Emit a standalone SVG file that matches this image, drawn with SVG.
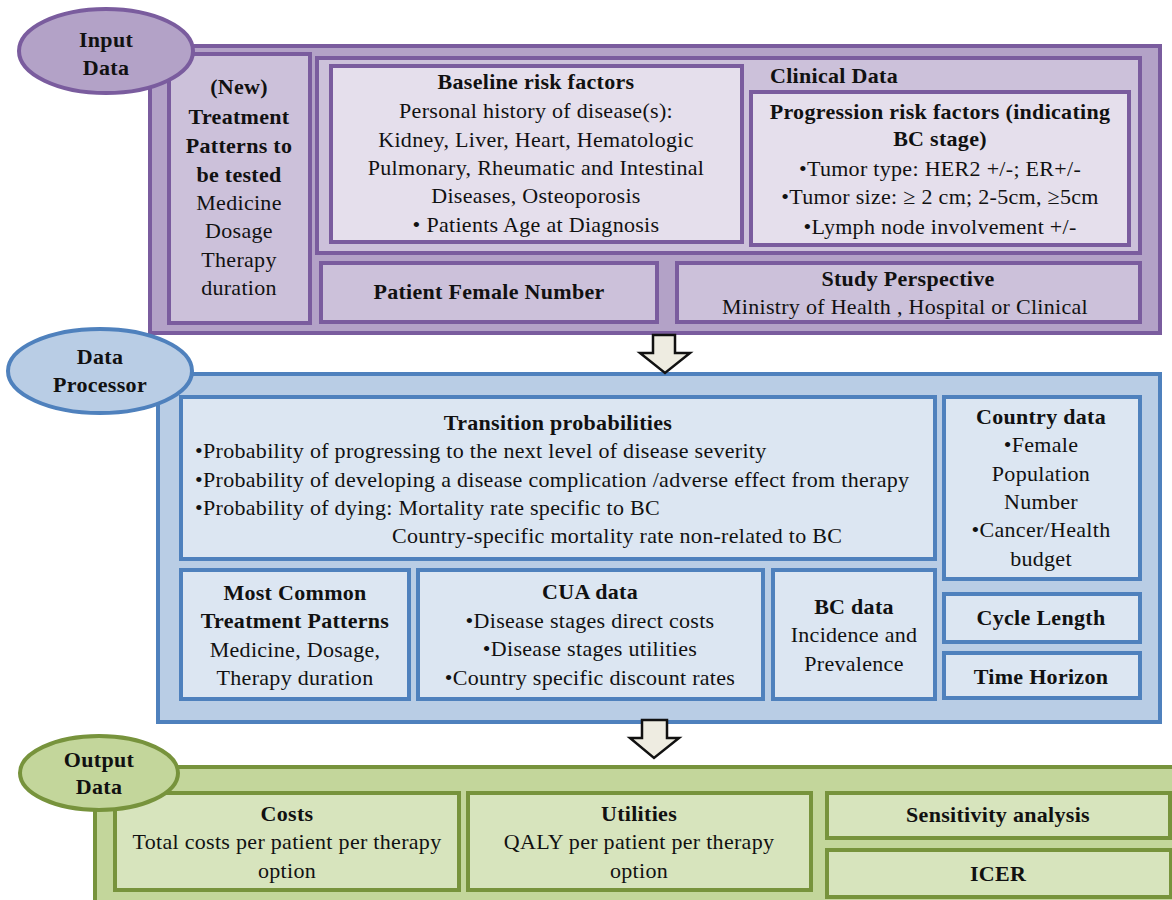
<svg xmlns="http://www.w3.org/2000/svg" width="1172" height="900" viewBox="0 0 1172 900" font-family="'Liberation Serif', 'DejaVu Serif', serif">
<style>
text{font-family:'Liberation Serif','DejaVu Serif',serif;font-size:22px;letter-spacing:0.3px;fill:#111;}
.c{text-anchor:middle;}
.b{font-weight:bold;}
.pOut{fill:#b3a2c7;stroke:#7a5c9e;stroke-width:4;}
.pMid{fill:#ccc1da;stroke:#7a5c9e;stroke-width:4;}
.pIn{fill:#e5dfec;stroke:#7a5c9e;stroke-width:4;}
.bOut{fill:#b9cde5;stroke:#4f81bd;stroke-width:4;}
.bIn{fill:#dce6f2;stroke:#4f81bd;stroke-width:4;}
.gOut{fill:#c3d69b;stroke:#77933c;stroke-width:4;}
.gIn{fill:#d7e4bd;stroke:#77933c;stroke-width:4;}
.arr{fill:#eeece1;stroke:#111;stroke-width:2.5;stroke-linejoin:miter;}
</style>
<rect width="1172" height="900" fill="#ffffff"/>

<g id="input-section">
<rect class="pOut" x="150" y="46" width="1010" height="287"/>
</g>
<g id="new-treatment">
<rect class="pMid" x="169" y="54" width="141" height="269"/>
<text class="c b" x="239" y="94">(New)</text>
<text class="c b" x="239" y="124">Treatment</text>
<text class="c b" x="239" y="153">Patterns to</text>
<text class="c b" x="239" y="182">be tested</text>
<text class="c" x="239" y="210">Medicine</text>
<text class="c" x="239" y="238">Dosage</text>
<text class="c" x="239" y="267">Therapy</text>
<text class="c" x="239" y="295">duration</text>
</g>
<g id="clinical-data">
<rect class="pMid" x="317" y="58" width="823" height="195"/>
<text class="b" x="770" y="83">Clinical Data</text>
</g>
<g id="baseline">
<rect class="pIn" x="331" y="66" width="411" height="176"/>
<text class="c b" x="536" y="89">Baseline risk factors</text>
<text class="c" x="536" y="118">Personal history of disease(s):</text>
<text class="c" x="536" y="147">Kidney, Liver, Heart, Hematologic</text>
<text class="c" x="536" y="175">Pulmonary, Rheumatic and Intestinal</text>
<text class="c" x="536" y="203">Diseases, Osteoporosis</text>
<text class="c" x="536" y="232">• Patients Age at Diagnosis</text>
</g>
<g id="progression">
<rect class="pIn" x="751" y="92" width="378" height="153"/>
<text class="c b" x="940" y="119">Progression risk factors (indicating</text>
<text class="c b" x="940" y="146">BC stage)</text>
<text class="c" x="940" y="176">•Tumor type: HER2 +/-; ER+/-</text>
<text class="c" x="940" y="204">•Tumor size: ≥ 2 cm; 2-5cm, ≥5cm</text>
<text class="c" x="940" y="234">•Lymph node involvement +/-</text>
</g>
<g id="patient-female">
<rect class="pMid" x="321" y="263" width="336" height="59"/>
<text class="c b" x="489" y="299">Patient Female Number</text>
</g>
<g id="study-perspective">
<rect class="pMid" x="677" y="263" width="463" height="59"/>
<text class="c b" x="908" y="286">Study Perspective</text>
<text class="c" x="905" y="314">Ministry of Health , Hospital or Clinical</text>
</g>
<g id="input-label">
<ellipse class="pOut" cx="106" cy="51" rx="87" ry="42"/>
<text class="c b" x="106" y="47">Input</text>
<text class="c b" x="106" y="75">Data</text>
</g>

<g id="processor-section">
<rect class="bOut" x="158" y="374" width="1002" height="348"/>
</g>
<g id="transition">
<rect class="bIn" x="181" y="397" width="754" height="162"/>
<text class="c b" x="558" y="430">Transition probabilities</text>
<text x="195" y="458">•Probability of progressing to the next level of disease severity</text>
<text x="195" y="487">•Probability of developing a disease complication /adverse effect from  therapy</text>
<text x="195" y="515">•Probability of dying: Mortality rate specific to BC</text>
<text x="392" y="543">Country-specific mortality rate non-related to BC</text>
</g>
<g id="country-data">
<rect class="bIn" x="944" y="397" width="196" height="182"/>
<text class="c b" x="1041" y="424">Country data</text>
<text class="c" x="1041" y="452">•Female</text>
<text class="c" x="1041" y="481">Population</text>
<text class="c" x="1041" y="509">Number</text>
<text class="c" x="1041" y="537">•Cancer/Health</text>
<text class="c" x="1041" y="566">budget</text>
</g>
<g id="cycle-length">
<rect class="bIn" x="944" y="594" width="196" height="48"/>
<text class="c b" x="1041" y="625">Cycle Length</text>
</g>
<g id="time-horizon">
<rect class="bIn" x="944" y="653" width="196" height="45"/>
<text class="c b" x="1041" y="684">Time Horizon</text>
</g>
<g id="most-common">
<rect class="bIn" x="181" y="570" width="228" height="129"/>
<text class="c b" x="295" y="600">Most Common</text>
<text class="c b" x="295" y="628">Treatment Patterns</text>
<text class="c" x="295" y="657">Medicine, Dosage,</text>
<text class="c" x="295" y="685">Therapy duration</text>
</g>
<g id="cua-data">
<rect class="bIn" x="418" y="570" width="345" height="129"/>
<text class="c b" x="590" y="599">CUA data</text>
<text class="c" x="590" y="628">•Disease stages direct costs</text>
<text class="c" x="590" y="656">•Disease stages utilities</text>
<text class="c" x="590" y="685">•Country specific discount  rates</text>
</g>
<g id="bc-data">
<rect class="bIn" x="773" y="570" width="162" height="129"/>
<text class="c b" x="854" y="614">BC data</text>
<text class="c" x="854" y="642">Incidence and</text>
<text class="c" x="854" y="671">Prevalence</text>
</g>
<g id="processor-label">
<ellipse class="bOut" cx="100" cy="371" rx="92" ry="42"/>
<text class="c b" x="100" y="364">Data</text>
<text class="c b" x="100" y="392">Processor</text>
</g>

<g id="output-section">
<rect class="gOut" x="95" y="767" width="1090" height="150"/>
</g>
<g id="costs">
<rect class="gIn" x="115" y="793" width="344" height="97"/>
<text class="c b" x="287" y="821">Costs</text>
<text class="c" x="287" y="849">Total costs per patient per therapy</text>
<text class="c" x="287" y="878">option</text>
</g>
<g id="utilities">
<rect class="gIn" x="468" y="793" width="343" height="97"/>
<text class="c b" x="639" y="821">Utilities</text>
<text class="c" x="639" y="849">QALY per patient per therapy</text>
<text class="c" x="639" y="878">option</text>
</g>
<g id="sensitivity">
<rect class="gIn" x="827" y="793" width="343" height="45"/>
<text class="c b" x="998" y="822">Sensitivity analysis</text>
</g>
<g id="icer">
<rect class="gIn" x="827" y="850" width="344" height="47"/>
<text class="c b" x="998" y="881">ICER</text>
</g>
<g id="output-label">
<ellipse class="gOut" cx="99" cy="773" rx="79" ry="37"/>
<text class="c b" x="99" y="767">Output</text>
<text class="c b" x="99" y="794">Data</text>
</g>

<g id="connectors">
<polygon class="arr" points="653,335 675,335 675,353 690,353 665,373 640,353 653,353"/>
<polygon class="arr" points="642,720 667,720 667,738 679,738 654,758 630,738 642,738"/>
</g>
</svg>
